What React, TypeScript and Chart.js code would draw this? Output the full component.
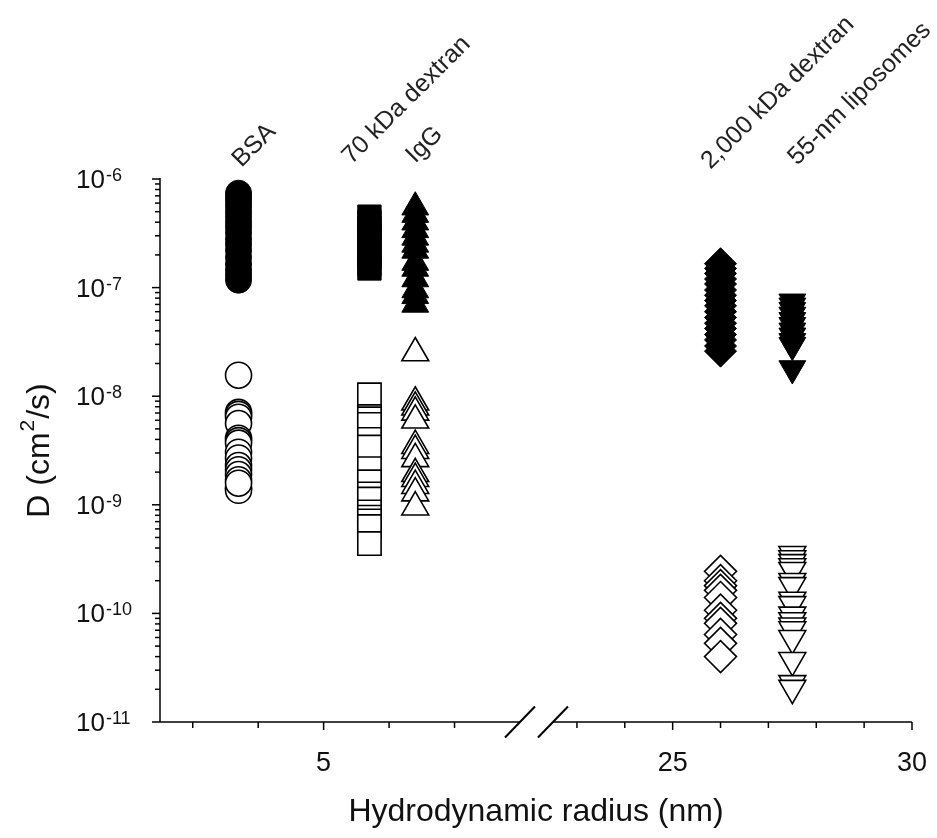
import React, { useEffect, useRef } from 'react';
import { Chart, registerables, LinearScale } from 'chart.js';

Chart.register(...registerables);

// ---------------- data ----------------
const categories = ['BSA', '70 kDa dextran', 'IgG', '2,000 kDa dextran', '55-nm liposomes'];
const radiusNm = [3.7, 5.7, 6.4, 26.0, 27.5];

const bsaFilled = [7.4e-7, 6.8e-7, 6.2e-7, 5.6e-7, 5.0e-7, 4.5e-7, 4.0e-7, 3.6e-7, 3.2e-7, 2.8e-7, 2.5e-7, 2.2e-7, 1.9e-7, 1.65e-7, 1.45e-7, 1.3e-7, 1.17e-7];
const bsaOpen = [1.56e-8, 7.1e-9, 6.8e-9, 6.4e-9, 5.6e-9, 4.1e-9, 3.9e-9, 3.7e-9, 3.05e-9, 2.7e-9, 2.3e-9, 2.1e-9, 1.9e-9, 1.7e-9, 1.42e-9, 1.36e-9, 1.58e-9];
const dex70Filled = [4.5e-7, 4.0e-7, 3.5e-7, 3.0e-7, 2.6e-7, 2.2e-7, 1.9e-7, 1.65e-7, 1.5e-7];
const dex70Open = [1.03e-8, 6.5e-9, 6.2e-9, 5.5e-9, 4.0e-9, 3.4e-9, 2.15e-9, 1.63e-9, 1.26e-9, 1.13e-9, 8.6e-10, 7.7e-10, 7.1e-10, 6.3e-10, 4.4e-10];
const iggFilled = [5.5e-7, 4.7e-7, 4.0e-7, 3.4e-7, 2.9e-7, 2.5e-7, 2.2e-7, 1.7e-7, 1.5e-7, 1.2e-7, 9.5e-8, 8.4e-8, 7.0e-8];
const iggOpen = [2.5e-8, 8.8e-9, 7.9e-9, 7.1e-9, 6.0e-9, 3.5e-9, 3.15e-9, 2.65e-9, 1.93e-9, 1.74e-9, 1.5e-9, 1.28e-9, 9.5e-10];
const dex2000Filled = [1.66e-7, 1.5e-7, 1.35e-7, 1.2e-7, 1.08e-7, 9.5e-8, 8.5e-8, 7.6e-8, 6.8e-8, 6.0e-8, 5.3e-8, 4.7e-8, 4.2e-8, 3.7e-8, 3.3e-8, 2.9e-8, 2.6e-8];
const dex2000Open = [2.44e-10, 2.0e-10, 1.8e-10, 1.63e-10, 1.4e-10, 1.07e-10, 9.0e-11, 8.1e-11, 6.4e-11, 5.3e-11, 4.0e-11];
const liposomeFilled = [7.4e-8, 6.8e-8, 6.2e-8, 5.6e-8, 5.0e-8, 4.5e-8, 4.0e-8, 3.6e-8, 3.2e-8, 2.95e-8, 1.8e-8];
const liposomeOpen = [3.5e-10, 3.2e-10, 2.95e-10, 2.7e-10, 2.5e-10, 1.98e-10, 1.81e-10, 1.33e-10, 1.21e-10, 9.7e-11, 8.6e-11, 7.7e-11, 7.1e-11, 5.9e-11, 3.7e-11, 2.27e-11, 2.05e-11];

const filledSeries = [bsaFilled, dex70Filled, iggFilled, dex2000Filled, liposomeFilled];
const openSeries = [bsaOpen, dex70Open, iggOpen, dex2000Open, liposomeOpen];

const xTickValues = [3, 4, 5, 6, 7, 23, 24, 25, 26, 27, 28, 29, 30];
const xTickLabels = ['', '', '5', '', '', '', '', '25', '', '', '', '', '30'];
const yDecades = [-6, -7, -8, -9, -10, -11];

const xTitle = 'Hydrodynamic radius (nm)';
const yTitleParts = ['D (cm', '2', '/s)'];

// broken x axis segments (nm)
const LEFT_SEG = [2.5, 8];
const RIGHT_SEG = [22.5, 30];
const SEG_FRAC = [0.4787, 0.5226];

function brokenFraction(v: number) {
  if (v <= LEFT_SEG[1]) return ((v - LEFT_SEG[0]) / (LEFT_SEG[1] - LEFT_SEG[0])) * SEG_FRAC[0];
  if (v >= RIGHT_SEG[0])
    return SEG_FRAC[1] + ((v - RIGHT_SEG[0]) / (RIGHT_SEG[1] - RIGHT_SEG[0])) * (1 - SEG_FRAC[1]);
  return SEG_FRAC[0] + ((v - LEFT_SEG[1]) / (RIGHT_SEG[0] - LEFT_SEG[1])) * (SEG_FRAC[1] - SEG_FRAC[0]);
}
function brokenInverse(f: number) {
  if (f <= SEG_FRAC[0]) return LEFT_SEG[0] + (f / SEG_FRAC[0]) * (LEFT_SEG[1] - LEFT_SEG[0]);
  if (f >= SEG_FRAC[1])
    return RIGHT_SEG[0] + ((f - SEG_FRAC[1]) / (1 - SEG_FRAC[1])) * (RIGHT_SEG[1] - RIGHT_SEG[0]);
  return LEFT_SEG[1] + ((f - SEG_FRAC[0]) / (SEG_FRAC[1] - SEG_FRAC[0])) * (RIGHT_SEG[0] - LEFT_SEG[1]);
}

class BrokenScale extends LinearScale {
  static id = 'broken';
  static defaults = LinearScale.defaults;
  getPixelForValue(value: any) {
    if (value === null || value === undefined || isNaN(value)) return NaN;
    return (this as any).getPixelForDecimal(brokenFraction(value));
  }
  getValueForPixel(pixel: number) {
    return brokenInverse((this as any).getDecimalForPixel(pixel));
  }
}
Chart.register(BrokenScale as any);

const FONT = "'Liberation Sans', Arial, Helvetica, sans-serif";

const styles = [
  { pointStyle: 'circle', radius: 13, rotation: 0 },
  { pointStyle: 'rect', radius: 16.5, rotation: 0 },
  { pointStyle: 'triangle', radius: 15.5, rotation: 0 },
  { pointStyle: 'rectRot', radius: 16, rotation: 0 },
  { pointStyle: 'triangle', radius: 15.5, rotation: 180 },
];

// label anchor offsets (px) relative to the series x position
const labelDx = [3, -18, 0, -10, 5];
const labelDy = [168, 165, 164, 170, 166];

const decorPlugin = {
  id: 'decor',
  afterDraw(chart: any) {
    const { ctx, chartArea: a } = chart;
    const x = chart.scales.x;
    const y = chart.scales.y;
    ctx.save();
    ctx.strokeStyle = '#000';
    ctx.lineWidth = 1.5;
    const line = (x1: number, y1: number, x2: number, y2: number) => {
      ctx.beginPath();
      ctx.moveTo(x1, y1);
      ctx.lineTo(x2, y2);
      ctx.stroke();
    };
    // axes
    line(a.left, a.top - 1, a.left, a.bottom);
    const gapL = x.getPixelForValue(LEFT_SEG[1]);
    const gapR = x.getPixelForValue(RIGHT_SEG[0]);
    line(a.left, a.bottom, gapL, a.bottom);
    line(gapR, a.bottom, a.right, a.bottom);
    ctx.lineWidth = 2;
    for (const px of [gapL, gapR]) line(px - 15, a.bottom + 15.5, px + 15, a.bottom - 15.5);
    ctx.lineWidth = 1.5;

    // y ticks
    for (const e of yDecades) {
      const py = y.getPixelForValue(Math.pow(10, e));
      line(a.left - 8, py, a.left, py);
      if (e < -6) {
        for (let m = 2; m <= 9; m++) {
          const pm = y.getPixelForValue(m * Math.pow(10, e));
          line(a.left - 5, pm, a.left, pm);
        }
      }
    }
    // y tick labels
    ctx.fillStyle = '#111';
    ctx.textAlign = 'left';
    ctx.textBaseline = 'alphabetic';
    for (const e of yDecades) {
      const py = y.getPixelForValue(Math.pow(10, e));
      ctx.font = `26px ${FONT}`;
      ctx.fillText('10', 76, py + 9);
      const w = ctx.measureText('10').width;
      ctx.font = `18px ${FONT}`;
      ctx.fillText(String(e), 76 + w + 1, py + 2);
    }

    // x ticks + labels
    ctx.textAlign = 'center';
    ctx.textBaseline = 'middle';
    ctx.font = `27px ${FONT}`;
    xTickValues.forEach((v, i) => {
      const px = x.getPixelForValue(v);
      const lab = xTickLabels[i];
      line(px, a.bottom, px, a.bottom + (lab ? 8 : 6));
      if (lab) ctx.fillText(lab, px, a.bottom + 42);
    });

    // x title
    ctx.font = `32px ${FONT}`;
    ctx.fillText(xTitle, (a.left + a.right) / 2, 812);

    // y title (rotated)
    ctx.save();
    ctx.translate(49, (a.top + a.bottom) / 2);
    ctx.rotate(-Math.PI / 2);
    ctx.textBaseline = 'alphabetic';
    ctx.textAlign = 'left';
    ctx.font = `32px ${FONT}`;
    const w1 = ctx.measureText(yTitleParts[0]).width;
    const w3 = ctx.measureText(yTitleParts[2]).width;
    ctx.font = `21px ${FONT}`;
    const w2 = ctx.measureText(yTitleParts[1]).width;
    let sx = -(w1 + w2 + w3 + 2) / 2;
    ctx.font = `32px ${FONT}`;
    ctx.fillText(yTitleParts[0], sx, 0);
    sx += w1 + 1;
    ctx.font = `21px ${FONT}`;
    ctx.fillText(yTitleParts[1], sx, -15);
    sx += w2 + 1;
    ctx.font = `32px ${FONT}`;
    ctx.fillText(yTitleParts[2], sx, 0);
    ctx.restore();

    // category labels
    ctx.fillStyle = '#222';
    ctx.font = `25px ${FONT}`;
    ctx.textAlign = 'left';
    ctx.textBaseline = 'alphabetic';
    categories.forEach((c, i) => {
      const px = x.getPixelForValue(radiusNm[i]) + labelDx[i];
      ctx.save();
      ctx.translate(px, labelDy[i]);
      ctx.rotate(-Math.PI / 4);
      ctx.fillText(c, 0, 0);
      ctx.restore();
    });
    ctx.restore();
  },
};

export default function App() {
  const ref = useRef<HTMLCanvasElement | null>(null);
  useEffect(() => {
    if (!ref.current) return;
    const datasets: any[] = [];
    categories.forEach((c, i) => {
      const st = styles[i];
      datasets.push({
        label: c + ' (filled)',
        data: filledSeries[i].map((v) => ({ x: radiusNm[i], y: v })),
        pointStyle: st.pointStyle,
        pointRadius: st.radius,
        pointRotation: st.rotation,
        backgroundColor: '#000',
        borderColor: '#000',
        borderWidth: 1,
        showLine: false,
        clip: false,
      });
      datasets.push({
        label: c + ' (open)',
        data: openSeries[i].map((v) => ({ x: radiusNm[i], y: v })),
        pointStyle: st.pointStyle,
        pointRadius: st.radius,
        pointRotation: st.rotation,
        backgroundColor: '#fff',
        borderColor: '#000',
        borderWidth: 1.6,
        showLine: false,
        clip: false,
      });
    });
    const chart = new Chart(ref.current, {
      type: 'scatter',
      data: { datasets },
      options: {
        animation: false,
        responsive: false,
        devicePixelRatio: 1,
        events: [],
        layout: { padding: { left: 160, right: 25, top: 179, bottom: 116 } },
        plugins: { legend: { display: false }, tooltip: { enabled: false } },
        scales: {
          x: { type: 'broken' as any, min: LEFT_SEG[0], max: RIGHT_SEG[1], display: false },
          y: { type: 'logarithmic', min: 1e-11, max: 1e-6, display: false },
        },
      },
      plugins: [decorPlugin],
    });
    return () => chart.destroy();
  }, []);
  return (
    <div style={{ position: 'fixed', left: 0, top: 0, width: 937, height: 838, background: '#fff' }}>
      <canvas ref={ref} width={937} height={838} />
    </div>
  );
}
